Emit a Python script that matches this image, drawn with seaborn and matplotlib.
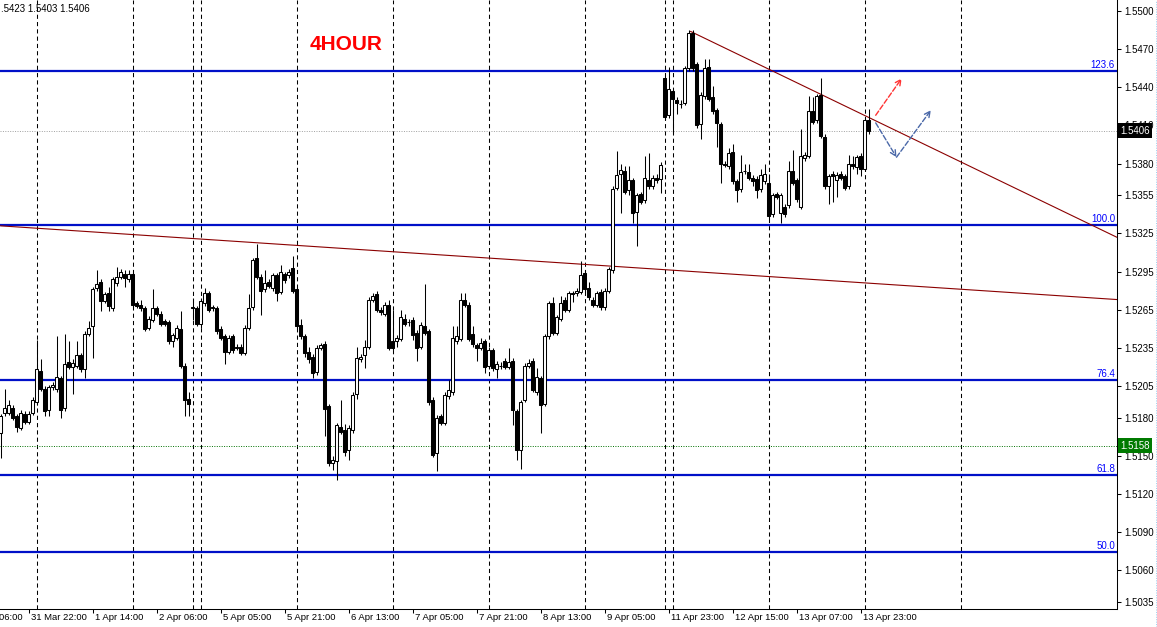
import matplotlib
matplotlib.use("Agg")
import matplotlib.pyplot as plt
from matplotlib.transforms import blended_transform_factory, offset_copy
from matplotlib.lines import Line2D
import seaborn as sns
import pandas as pd
import numpy as np

# hourly OHLC bars (bar 0 = 31 Mar 15:00, last = 14 Apr 01:00)
opens = [
    1.5168, 1.5184, 1.5184, 1.5188, 1.5181, 1.5172, 1.5183, 1.5177, 1.5184, 1.5192,
    1.5217, 1.5203, 1.5186, 1.5204, 1.5203, 1.5211, 1.5188, 1.5224, 1.5220, 1.5221,
    1.5229, 1.5218, 1.5246, 1.5252, 1.5282, 1.5287, 1.5272, 1.5278, 1.5266, 1.5286,
    1.5291, 1.5293, 1.5289, 1.5293, 1.5270, 1.5269, 1.5266, 1.5251, 1.5257, 1.5266,
    1.5262, 1.5256, 1.5255, 1.5240, 1.5243, 1.5250, 1.5221, 1.5195, 1.5267, 1.5266,
    1.5254, 1.5270, 1.5278, 1.5267, 1.5266, 1.5250, 1.5244, 1.5232, 1.5244, 1.5236,
    1.5236, 1.5231, 1.5251, 1.5267, 1.5306, 1.5291, 1.5281, 1.5287, 1.5282, 1.5292,
    1.5279, 1.5293, 1.5292, 1.5298, 1.5281, 1.5253, 1.5244, 1.5232, 1.5228, 1.5216,
    1.5235, 1.5238, 1.5189, 1.5144, 1.5146, 1.5173, 1.5170, 1.5155, 1.5170, 1.5199,
    1.5226, 1.5229, 1.5236, 1.5273, 1.5277, 1.5265, 1.5262, 1.5269, 1.5240, 1.5240,
    1.5242, 1.5258, 1.5255, 1.5257, 1.5247, 1.5236, 1.5252, 1.5248, 1.5194, 1.5152,
    1.5181, 1.5176, 1.5197, 1.5200, 1.5240, 1.5242, 1.5273, 1.5269, 1.5246, 1.5237,
    1.5235, 1.5240, 1.5221, 1.5233, 1.5218, 1.5221, 1.5225, 1.5220, 1.5225, 1.5185,
    1.5155, 1.5194, 1.5221, 1.5225, 1.5200, 1.5211, 1.5191, 1.5244, 1.5270, 1.5247,
    1.5258, 1.5273, 1.5265, 1.5278, 1.5278, 1.5279, 1.5294, 1.5282, 1.5273, 1.5269,
    1.5279, 1.5267, 1.5280, 1.5296, 1.5361, 1.5372, 1.5374, 1.5359, 1.5367, 1.5342,
    1.5356, 1.5351, 1.5367, 1.5362, 1.5369, 1.5368, 1.5447, 1.5418, 1.5437, 1.5430,
    1.5427, 1.5428, 1.5455, 1.5483, 1.5458, 1.5411, 1.5433, 1.5456, 1.5432, 1.5422,
    1.5411, 1.5380, 1.5378, 1.5389, 1.5366, 1.5360, 1.5374, 1.5373, 1.5369, 1.5368,
    1.5360, 1.5366, 1.5365, 1.5340, 1.5356, 1.5341, 1.5346, 1.5347, 1.5374, 1.5367,
    1.5346, 1.5384, 1.5386, 1.5421, 1.5414, 1.5434, 1.5401, 1.5362, 1.5372, 1.5367,
    1.5372, 1.5370, 1.5362, 1.5380, 1.5377, 1.5386, 1.5376, 1.5414,
]
highs = [
    1.5183, 1.5203, 1.5194, 1.5190, 1.5183, 1.5186, 1.5185, 1.5185, 1.5196, 1.5241,
    1.5226, 1.5205, 1.5206, 1.5208, 1.5244, 1.5213, 1.5246, 1.5240, 1.5226, 1.5240,
    1.5231, 1.5248, 1.5256, 1.5283, 1.5296, 1.5289, 1.5279, 1.5283, 1.5291, 1.5299,
    1.5297, 1.5296, 1.5296, 1.5295, 1.5272, 1.5273, 1.5268, 1.5260, 1.5281, 1.5268,
    1.5264, 1.5258, 1.5257, 1.5247, 1.5253, 1.5264, 1.5223, 1.5200, 1.5274, 1.5268,
    1.5274, 1.5282, 1.5280, 1.5269, 1.5268, 1.5252, 1.5246, 1.5245, 1.5246, 1.5238,
    1.5238, 1.5253, 1.5277, 1.5306, 1.5317, 1.5293, 1.5296, 1.5289, 1.5294, 1.5294,
    1.5300, 1.5295, 1.5297, 1.5307, 1.5283, 1.5258, 1.5246, 1.5236, 1.5230, 1.5237,
    1.5239, 1.5240, 1.5191, 1.5150, 1.5176, 1.5194, 1.5175, 1.5174, 1.5200, 1.5236,
    1.5230, 1.5241, 1.5275, 1.5278, 1.5280, 1.5267, 1.5271, 1.5273, 1.5265, 1.5245,
    1.5265, 1.5262, 1.5258, 1.5259, 1.5249, 1.5255, 1.5285, 1.5250, 1.5196, 1.5182,
    1.5183, 1.5200, 1.5210, 1.5252, 1.5252, 1.5278, 1.5278, 1.5271, 1.5252, 1.5239,
    1.5243, 1.5242, 1.5236, 1.5235, 1.5225, 1.5224, 1.5227, 1.5235, 1.5227, 1.5187,
    1.5194, 1.5223, 1.5226, 1.5227, 1.5219, 1.5213, 1.5246, 1.5272, 1.5275, 1.5261,
    1.5276, 1.5275, 1.5280, 1.5280, 1.5282, 1.5303, 1.5296, 1.5287, 1.5275, 1.5280,
    1.5281, 1.5282, 1.5299, 1.5362, 1.5390, 1.5380, 1.5378, 1.5378, 1.5369, 1.5357,
    1.5358, 1.5386, 1.5388, 1.5371, 1.5372, 1.5381, 1.5449, 1.5456, 1.5439, 1.5432,
    1.5430, 1.5457, 1.5485, 1.5485, 1.5460, 1.5436, 1.5462, 1.5462, 1.5441, 1.5424,
    1.5413, 1.5382, 1.5392, 1.5395, 1.5368, 1.5387, 1.5380, 1.5380, 1.5371, 1.5370,
    1.5376, 1.5380, 1.5372, 1.5357, 1.5358, 1.5357, 1.5348, 1.5382, 1.5391, 1.5369,
    1.5407, 1.5389, 1.5433, 1.5432, 1.5435, 1.5447, 1.5403, 1.5372, 1.5374, 1.5373,
    1.5374, 1.5372, 1.5387, 1.5386, 1.5387, 1.5388, 1.5416, 1.5423,
]
lows = [
    1.5148, 1.5181, 1.5182, 1.5178, 1.5169, 1.5170, 1.5175, 1.5175, 1.5182, 1.5190,
    1.5201, 1.5181, 1.5181, 1.5202, 1.5200, 1.5180, 1.5185, 1.5218, 1.5199, 1.5219,
    1.5216, 1.5211, 1.5244, 1.5227, 1.5280, 1.5264, 1.5270, 1.5264, 1.5264, 1.5284,
    1.5289, 1.5283, 1.5287, 1.5267, 1.5266, 1.5264, 1.5248, 1.5249, 1.5255, 1.5260,
    1.5252, 1.5252, 1.5238, 1.5236, 1.5241, 1.5219, 1.5181, 1.5181, 1.5257, 1.5252,
    1.5251, 1.5268, 1.5263, 1.5264, 1.5246, 1.5241, 1.5222, 1.5230, 1.5231, 1.5233,
    1.5229, 1.5229, 1.5249, 1.5265, 1.5289, 1.5261, 1.5279, 1.5282, 1.5280, 1.5272,
    1.5277, 1.5286, 1.5290, 1.5278, 1.5250, 1.5242, 1.5228, 1.5223, 1.5211, 1.5214,
    1.5233, 1.5166, 1.5142, 1.5139, 1.5131, 1.5167, 1.5150, 1.5147, 1.5168, 1.5195,
    1.5224, 1.5219, 1.5234, 1.5271, 1.5263, 1.5261, 1.5260, 1.5233, 1.5233, 1.5236,
    1.5240, 1.5252, 1.5252, 1.5241, 1.5225, 1.5234, 1.5245, 1.5190, 1.5149, 1.5138,
    1.5174, 1.5174, 1.5195, 1.5198, 1.5238, 1.5240, 1.5267, 1.5240, 1.5236, 1.5225,
    1.5233, 1.5215, 1.5218, 1.5217, 1.5211, 1.5218, 1.5218, 1.5218, 1.5174, 1.5147,
    1.5140, 1.5192, 1.5219, 1.5200, 1.5198, 1.5168, 1.5189, 1.5242, 1.5245, 1.5245,
    1.5256, 1.5263, 1.5263, 1.5271, 1.5276, 1.5277, 1.5279, 1.5273, 1.5267, 1.5267,
    1.5265, 1.5265, 1.5278, 1.5294, 1.5359, 1.5341, 1.5356, 1.5355, 1.5333, 1.5315,
    1.5348, 1.5349, 1.5360, 1.5360, 1.5365, 1.5357, 1.5415, 1.5416, 1.5404, 1.5419,
    1.5424, 1.5426, 1.5453, 1.5453, 1.5408, 1.5399, 1.5431, 1.5429, 1.5419, 1.5393,
    1.5365, 1.5377, 1.5376, 1.5364, 1.5350, 1.5358, 1.5372, 1.5367, 1.5362, 1.5353,
    1.5358, 1.5364, 1.5336, 1.5338, 1.5352, 1.5333, 1.5338, 1.5345, 1.5363, 1.5350,
    1.5344, 1.5382, 1.5384, 1.5411, 1.5412, 1.5400, 1.5360, 1.5348, 1.5350, 1.5354,
    1.5367, 1.5359, 1.5360, 1.5376, 1.5372, 1.5370, 1.5374, 1.5403,
]
closes = [
    1.5181, 1.5188, 1.5190, 1.5180, 1.5173, 1.5184, 1.5177, 1.5183, 1.5194, 1.5218,
    1.5203, 1.5185, 1.5204, 1.5206, 1.5212, 1.5186, 1.5222, 1.5220, 1.5223, 1.5229,
    1.5218, 1.5246, 1.5251, 1.5281, 1.5285, 1.5272, 1.5277, 1.5268, 1.5289, 1.5291,
    1.5295, 1.5290, 1.5293, 1.5269, 1.5268, 1.5266, 1.5250, 1.5258, 1.5266, 1.5262,
    1.5254, 1.5254, 1.5240, 1.5245, 1.5251, 1.5221, 1.5194, 1.5191, 1.5266, 1.5254,
    1.5272, 1.5278, 1.5265, 1.5266, 1.5248, 1.5243, 1.5232, 1.5243, 1.5233, 1.5235,
    1.5231, 1.5251, 1.5266, 1.5304, 1.5291, 1.5280, 1.5286, 1.5284, 1.5292, 1.5278,
    1.5295, 1.5288, 1.5295, 1.5280, 1.5252, 1.5244, 1.5231, 1.5226, 1.5215, 1.5235,
    1.5237, 1.5187, 1.5144, 1.5147, 1.5174, 1.5169, 1.5153, 1.5172, 1.5198, 1.5227,
    1.5228, 1.5236, 1.5273, 1.5276, 1.5265, 1.5263, 1.5269, 1.5235, 1.5235, 1.5243,
    1.5259, 1.5254, 1.5255, 1.5245, 1.5235, 1.5253, 1.5247, 1.5192, 1.5151, 1.5180,
    1.5176, 1.5198, 1.5202, 1.5243, 1.5244, 1.5273, 1.5269, 1.5242, 1.5238, 1.5235,
    1.5239, 1.5220, 1.5233, 1.5219, 1.5222, 1.5221, 1.5220, 1.5224, 1.5186, 1.5155,
    1.5192, 1.5221, 1.5223, 1.5202, 1.5212, 1.5190, 1.5244, 1.5270, 1.5247, 1.5259,
    1.5270, 1.5265, 1.5278, 1.5277, 1.5280, 1.5292, 1.5281, 1.5275, 1.5269, 1.5278,
    1.5267, 1.5280, 1.5297, 1.5360, 1.5371, 1.5375, 1.5358, 1.5367, 1.5341, 1.5355,
    1.5350, 1.5369, 1.5362, 1.5369, 1.5367, 1.5379, 1.5417, 1.5439, 1.5431, 1.5428,
    1.5427, 1.5455, 1.5483, 1.5455, 1.5410, 1.5434, 1.5455, 1.5431, 1.5421, 1.5412,
    1.5380, 1.5379, 1.5388, 1.5366, 1.5359, 1.5373, 1.5374, 1.5369, 1.5366, 1.5359,
    1.5371, 1.5372, 1.5339, 1.5355, 1.5354, 1.5355, 1.5340, 1.5374, 1.5365, 1.5352,
    1.5386, 1.5387, 1.5421, 1.5413, 1.5433, 1.5402, 1.5362, 1.5370, 1.5370, 1.5371,
    1.5369, 1.5361, 1.5380, 1.5378, 1.5385, 1.5376, 1.5414, 1.5406,
]

# date labels on the time axis (bar index -> label)
tick_bars = [-9, 7, 23, 39, 55, 71, 87, 103, 119, 135, 151, 167, 183, 199, 215]
tick_labels = ["31 Mar 06:00", "31 Mar 22:00", "1 Apr 14:00", "2 Apr 06:00",
               "5 Apr 05:00", "5 Apr 21:00", "6 Apr 13:00", "7 Apr 05:00",
               "7 Apr 21:00", "8 Apr 13:00", "9 Apr 05:00", "11 Apr 23:00",
               "12 Apr 15:00", "13 Apr 07:00", "13 Apr 23:00"]
# day separators
sep_bars = [9, 33, 48, 50, 74, 98, 122, 146, 166, 168, 192, 216, 240]

price_ticks = [1.5500, 1.5470, 1.5440, 1.5410, 1.5380, 1.5355, 1.5325, 1.5295,
               1.5265, 1.5235, 1.5205, 1.5180, 1.5150, 1.5120, 1.5090, 1.5060, 1.5035]

fib_levels = [1.5453, 1.5332, 1.5210, 1.5135, 1.5074]
fib_labels = ["123.6", "100.0", "76.4", "61.8", "50.0"]

bid_price = 1.5406
alert_price = 1.5158

# trend lines: (bar, price) anchors
long_trend = [(0, 1.5331), (279.1, 1.5273)]
short_trend = [(172.5, 1.5484), (279.1, 1.5322)]

# scenario arrows
red_arrow = [(218.8, 1.5418), (225.3, 1.5447)]
blue_path = [(218.8, 1.5412), (224.0, 1.5385), (232.6, 1.5422)]

header_text = ".5423 1.5403 1.5406"
title_text = "4HOUR"

df = pd.DataFrame({"open": opens, "high": highs, "low": lows, "close": closes})
df["bar"] = np.arange(len(df))
df["bull"] = df["close"] >= df["open"]

sns.set_theme(style="white")
plt.rcParams["font.family"] = ["Liberation Sans", "DejaVu Sans"]

W, H = 1157, 627
fig = plt.figure(figsize=(W / 100, H / 100), dpi=100)
fig.patch.set_facecolor("white")
ax = fig.add_axes([0, 18 / H, 1117 / W, 609 / H])
ax.set_facecolor("white")

ax.set_xlim(-0.125, 279.125)
ax.set_ylim(1.50295, 1.55087)

# day separators
for b in sep_bars:
    ax.axvline(b, color="black", lw=0.75, ls=(0, (4, 3)), zorder=1)

# fibo levels
blend_y = blended_transform_factory(ax.transAxes, ax.transData)
for lvl, lab in zip(fib_levels, fib_labels):
    ax.axhline(lvl, color="#0010c8", lw=1.6, zorder=1.5)
    ax.text(1.0, lvl, lab, transform=offset_copy(blend_y, fig=fig, x=-2, y=1, units="dots"),
            ha="right", va="bottom", color="#0000ff", fontsize=7, zorder=2)

ax.axhline(bid_price, color="#a0a0a0", lw=0.7, ls=(0, (1, 1.5)), zorder=1)
ax.axhline(alert_price, color="#007000", lw=0.7, ls=(0, (1, 1.5)), zorder=1)

# trend lines
ax.plot(*zip(*long_trend), color="#8b0000", lw=0.8, zorder=1.6)
ax.plot(*zip(*short_trend), color="#8b0000", lw=0.8, zorder=1.6)

# candles
ax.vlines(df["bar"], df["low"], df["high"], color="black", lw=0.75, zorder=2)
body_lo = df[["open", "close"]].min(axis=1)
body_hi = df[["open", "close"]].max(axis=1)
ax.bar(df["bar"], body_hi - body_lo, bottom=body_lo, width=0.6,
       color=np.where(df["bull"], "white", "black"), edgecolor="black",
       linewidth=0.75, zorder=3)

# arrows
ax.annotate("", xy=red_arrow[1], xytext=red_arrow[0],
            arrowprops=dict(arrowstyle="->", color="#ff3333", lw=1.0, ls="--",
                            shrinkA=0, shrinkB=0, mutation_scale=10), zorder=4)
for a, b in zip(blue_path[:-1], blue_path[1:]):
    ax.annotate("", xy=b, xytext=a,
                arrowprops=dict(arrowstyle="->", color="#4a68a8", lw=1.0, ls="--",
                                shrinkA=0, shrinkB=0, mutation_scale=10), zorder=4)

# axes styling
sns.despine(ax=ax, left=True, top=True, right=False, bottom=False)
for s in ("right", "bottom"):
    ax.spines[s].set_color("black")
    ax.spines[s].set_linewidth(0.75)
ax.yaxis.tick_right()
ax.set_yticks(price_ticks)
ax.set_yticklabels([f"{v:.4f}" for v in price_ticks])
ax.tick_params(axis="y", right=True, direction="out", length=3, width=0.75,
               color="black", labelsize=7, pad=2, labelcolor="black")
ax.set_xticks([b for b in tick_bars if b >= 0])
ax.set_xticklabels([])
ax.tick_params(axis="x", bottom=True, direction="out", length=3, width=0.75, color="black")
ax.grid(False)

blend_x = blended_transform_factory(ax.transData, ax.transAxes)
for b, lab in zip(tick_bars, tick_labels):
    ax.text(b, 0, lab, transform=offset_copy(blend_x, fig=fig, x=2.5, y=-4, units="dots"),
            ha="left", va="top", fontsize=6.8, color="black", clip_on=False)

# price boxes on the scale
ax.text(1.0, bid_price, f"{bid_price:.4f}", transform=offset_copy(blend_y, fig=fig, x=3, units="dots"),
        ha="left", va="center", color="white", fontsize=7, zorder=6, clip_on=False,
        bbox=dict(boxstyle="square,pad=0.25", fc="black", ec="none"))
ax.text(1.0, alert_price, f"{alert_price:.4f}", transform=offset_copy(blend_y, fig=fig, x=3, units="dots"),
        ha="left", va="center", color="white", fontsize=7, zorder=6, clip_on=False,
        bbox=dict(boxstyle="square,pad=0.25", fc="#007a00", ec="none"))

fig.text(1 / W, 1 - 9 / H, header_text, fontsize=7, va="center", ha="left", color="black")
fig.text(310 / W, 1 - 44 / H, title_text, fontsize=15, fontweight="bold", color="#ff0000",
         va="center", ha="left")
fig.add_artist(Line2D([1155.5 / W] * 2, [0, 1], transform=fig.transFigure,
                      color="#9ccff0", lw=0.7, ls=(0, (1, 1.5))))

fig.savefig("out.png", dpi=100, facecolor="white")
